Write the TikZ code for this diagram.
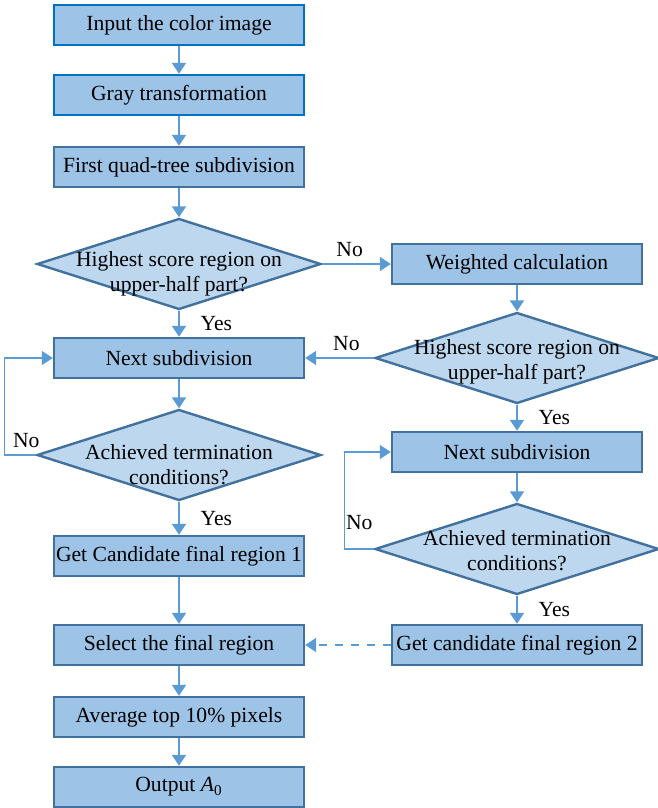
\documentclass[tikz,border=0pt]{standalone}
\usepackage{fontspec}
\setmainfont{Liberation Serif}
\newfontfamily\chartfont{Liberation Serif}
\usepackage{tikz}
\usetikzlibrary{arrows.meta}
\usetikzlibrary{shapes.geometric}

\definecolor{boxfill}{HTML}{9DC3E6}
\definecolor{decfill}{HTML}{BDD7EE}
\definecolor{boxline}{HTML}{41719C}
\definecolor{brightline}{HTML}{0070C0}
\definecolor{arrowcol}{HTML}{5B9BD5}

\tikzset{
  box/.style={draw=boxline, fill=boxfill, line width=1.2pt, minimum width=125pt,
    minimum height=20pt, inner sep=0pt},
  boxhi/.style={box, draw=brightline},
  decision/.style={diamond, draw=boxline, fill=decfill, line width=1.2pt,
    minimum width=142pt, minimum height=45.5pt, inner sep=0pt},
  dectext/.style={align=center, inner sep=0pt, font=\chartfont\fontsize{10.8}{12.5}\selectfont},
  arrowline/.style={draw=arrowcol, line width=1pt, -{Triangle[length=5.5pt,width=7pt]}},
  loopline/.style={arrowline, line width=0.6pt},
}

\begin{document}
\begin{tikzpicture}[x=0.5pt, y=-0.5pt, font=\chartfont\fontsize{10.8}{12.5}\selectfont]
      \useasboundingbox (0,0) rectangle (658,808);
      % left column
      \node[boxhi] (input) at (179,25) {Input the color image};
      \node[boxhi] (gray) at (179,95) {Gray transformation};
      \node[box] (quad) at (179,167) {First quad-tree subdivision};
      \node[decision, label={[dectext, yshift=-5pt]center:Highest score region on\\upper-half part?}] (high1) at (179,264) {};
      \node[box] (next1) at (179,358) {Next subdivision};
      \node[decision, label={[dectext, yshift=-5pt]center:Achieved termination\\conditions?}] (term1) at (179,455) {};
      \node[box] (cand1) at (179,556) {Get Candidate final region 1};
      \node[box] (select) at (179,645) {Select the final region};
      \node[box] (avg) at (179,717) {Average top 10\% pixels};
      \node[box] (output) at (179,787) {Output \textit{A}\textsubscript{0}};
      % right column
      \node[box] (weight) at (517,264) {Weighted calculation};
      \node[decision, label={[dectext, yshift=-2pt]center:Highest score region on\\upper-half part?}] (high2) at (517,358) {};
      \node[box] (next2) at (517,452) {Next subdivision};
      \node[decision, label={[dectext, yshift=-1pt]center:Achieved termination\\conditions?}] (term2) at (517,549) {};
      \node[box] (cand2) at (517,645) {Get candidate final region 2};
      % connectors
      \draw[arrowline] (input) -- (gray);
      \draw[arrowline] (gray) -- (quad);
      \draw[arrowline] (quad) -- (high1);
      \draw[arrowline] (high1.east) -- (weight.west) node[pos=.4, above] {No};
      \draw[arrowline] (high1.south) -- (next1.north) node[midway, right=7pt] {Yes};
      \draw[arrowline] (weight) -- (high2);
      \draw[arrowline] (high2.west) -- (next1.east) node[pos=.4, above] {No};
      \draw[arrowline] (next1) -- (term1);
      \draw[loopline] (term1.west) -- node[above, xshift=3pt] {No} ++(-31,0) |- (next1.west);
      \draw[arrowline] (term1.south) -- (cand1.north) node[midway, right=7pt] {Yes};
      \draw[arrowline] (cand1) -- (select);
      \draw[arrowline] (high2.south) -- (next2.north) node[midway, right=7pt] {Yes};
      \draw[arrowline] (next2) -- (term2);
      \draw[loopline] (term2.west) -- node[above=6pt] {No} ++(-29,0) |- (next2.west);
      \draw[arrowline] (term2.south) -- (cand2.north) node[midway, right=7pt] {Yes};
      \draw[arrowline, dashed, dash pattern=on 4pt off 4pt] (cand2.west) -- (select.east);
      \draw[arrowline] (select) -- (avg);
      \draw[arrowline] (avg) -- (output);
    \end{tikzpicture}
\end{document}
